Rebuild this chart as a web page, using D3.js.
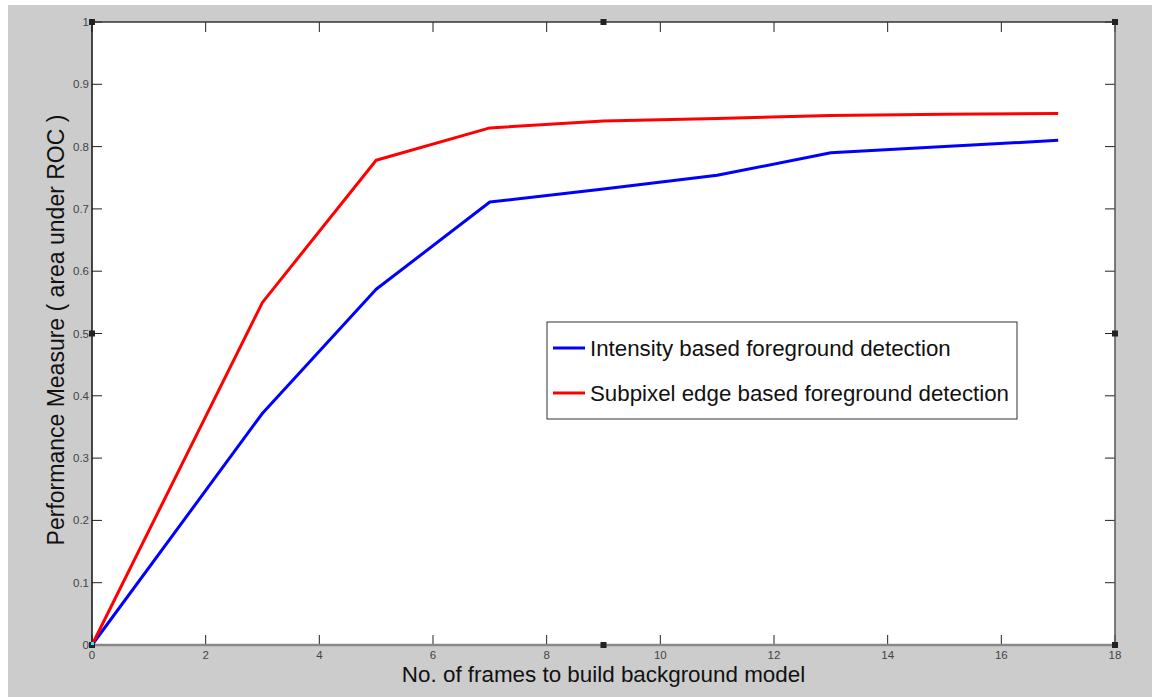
<!DOCTYPE html>
<html><head><meta charset="utf-8">
<script src="https://cdn.jsdelivr.net/npm/d3@7"></script>
<style>body{margin:0;background:#fff;}svg{display:block;}</style>
</head><body>
<svg id="c" width="1152" height="697"></svg>
<script>
const xFrames = [0, 3, 5, 7, 9, 11, 13, 15, 17];
const intensity = [0, 0.372, 0.571, 0.711, 0.732, 0.754, 0.79, 0.80, 0.81];
const subpixel = [0, 0.55, 0.778, 0.83, 0.841, 0.845, 0.85, 0.852, 0.853];
const xTicks = [0, 2, 4, 6, 8, 10, 12, 14, 16, 18];
const yTicks = [0, 0.1, 0.2, 0.3, 0.4, 0.5, 0.6, 0.7, 0.8, 0.9, 1];
const seriesNames = ["Intensity based foreground detection", "Subpixel edge based foreground detection"];
const seriesColors = ["#0000ff", "#ff0000"];

const svg = d3.select("#c");
const L = 92, R = 1115, T = 22, B = 645;
svg.append("rect").attr("x", 8).attr("y", 5).attr("width", 1144).attr("height", 692).attr("fill", "#cccccc");
svg.append("rect").attr("x", L).attr("y", T).attr("width", R - L).attr("height", B - T).attr("fill", "#ffffff");

const x = d3.scaleLinear().domain([0, 18]).range([L, R]);
const y = d3.scaleLinear().domain([0, 1]).range([B, T]);

const font = "'Liberation Sans', Arial, sans-serif";
const tl = 10;
const g = svg.append("g");
xTicks.forEach(t => {
  g.append("line").attr("x1", x(t)).attr("x2", x(t)).attr("y1", B).attr("y2", B - tl).attr("stroke", "#222").attr("stroke-width", 1);
  g.append("line").attr("x1", x(t)).attr("x2", x(t)).attr("y1", T).attr("y2", T + tl).attr("stroke", "#222").attr("stroke-width", 1);
  g.append("text").attr("x", x(t)).attr("y", B + 14).attr("text-anchor", "middle").attr("font-family", font).attr("font-size", 11.5).attr("fill", "#444").text(d3.format("")(t));
});
yTicks.forEach(t => {
  g.append("line").attr("x1", L).attr("x2", L + tl).attr("y1", y(t)).attr("y2", y(t)).attr("stroke", "#222").attr("stroke-width", 1);
  g.append("line").attr("x1", R).attr("x2", R - tl).attr("y1", y(t)).attr("y2", y(t)).attr("stroke", "#222").attr("stroke-width", 1);
  g.append("text").attr("x", L - 3).attr("y", y(t) + 4).attr("text-anchor", "end").attr("font-family", font).attr("font-size", 11.5).attr("fill", "#444").text(d3.format("")(t));
});
svg.append("line").attr("x1", L).attr("x2", R).attr("y1", T).attr("y2", T).attr("stroke", "#333").attr("stroke-width", 1.5);
svg.append("line").attr("x1", L).attr("x2", L).attr("y1", T).attr("y2", B).attr("stroke", "#111").attr("stroke-width", 1.5);
svg.append("line").attr("x1", R).attr("x2", R).attr("y1", T).attr("y2", B).attr("stroke", "#555").attr("stroke-width", 1.5);
svg.append("line").attr("x1", L).attr("x2", R).attr("y1", B).attr("y2", B).attr("stroke", "#888").attr("stroke-width", 2.5);

const line = d3.line().x((d, i) => x(xFrames[i])).y(d => y(d));
[intensity, subpixel].forEach((s, k) => {
  svg.append("path").attr("d", line(s)).attr("fill", "none").attr("stroke", seriesColors[k]).attr("stroke-width", 3).attr("stroke-linejoin", "round");
});

const hs = [[0, 0], [9, 0], [18, 0], [0, 0.5], [18, 0.5], [0, 1], [9, 1], [18, 1]];
hs.forEach(([a, b]) => {
  svg.append("rect").attr("x", x(a) - 3).attr("y", y(b) - 3).attr("width", 6).attr("height", 6).attr("fill", "#222");
});
svg.append("rect").attr("x", x(0) - 1).attr("y", y(0) - 3).attr("width", 3).attr("height", 3).attr("fill", "#00ffff");

const lg = svg.append("g");
lg.append("rect").attr("x", 547).attr("y", 322).attr("width", 470).attr("height", 97).attr("fill", "#fff").attr("stroke", "#333").attr("stroke-width", 1);
seriesNames.forEach((n, k) => {
  const yy = 348 + k * 45;
  lg.append("line").attr("x1", 553).attr("x2", 585).attr("y1", yy).attr("y2", yy).attr("stroke", seriesColors[k]).attr("stroke-width", 3);
  lg.append("text").attr("x", 590).attr("y", yy + 8).attr("font-family", font).attr("font-size", 22.3).attr("fill", "#111").text(n);
});

svg.append("text").attr("x", (L + R) / 2).attr("y", 682).attr("text-anchor", "middle").attr("font-family", font).attr("font-size", 22.4).attr("fill", "#111").text("No. of frames to build background model");
svg.append("text").attr("transform", "translate(64,330) rotate(-90)").attr("text-anchor", "middle").attr("font-family", font).attr("font-size", 23).attr("fill", "#111").text("Performance Measure ( area under ROC )");
</script>
</body></html>
